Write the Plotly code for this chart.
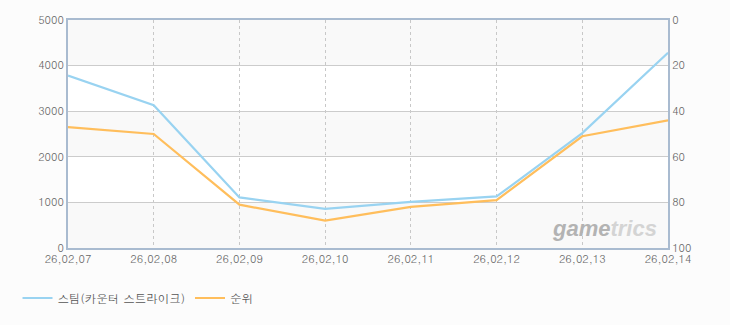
import plotly.graph_objects as go

dates = ["26,02,07", "26,02,08", "26,02,09", "26,02,10", "26,02,11", "26,02,12", "26,02,13", "26,02,14"]
players = [3780, 3130, 1110, 860, 1010, 1130, 2520, 4280]
ranks = [47, 50, 81, 88, 82, 79, 51, 44]

player_name = "스팀(카운터 스트라이크)"
rank_name = "순위"

left_ticks = [0, 1000, 2000, 3000, 4000, 5000]
right_ticks = [0, 20, 40, 60, 80, 100]

BLUE = "#99d3f1"
ORANGE = "#ffbe5c"
FONT = "Dotum, 'Noto Sans CJK KR', 'DejaVu Sans', sans-serif"

fig = go.Figure()
fig.add_trace(go.Scatter(x=dates, y=players, name=player_name, mode="lines",
                         line=dict(color=BLUE, width=2.2), yaxis="y"))
fig.add_trace(go.Scatter(x=dates, y=ranks, name=rank_name, mode="lines",
                         line=dict(color=ORANGE, width=2.2), yaxis="y2"))

# alternating bands
shapes = []
for i in range(len(left_ticks) - 1):
    if i % 2 == 0:
        shapes.append(dict(type="rect", xref="paper", yref="y", x0=0, x1=1,
                           y0=left_ticks[i], y1=left_ticks[i + 1],
                           fillcolor="#f9f9f9", line=dict(width=0), layer="below"))

fig.update_layout(
    width=730, height=325,
    margin=dict(l=68, r=62, t=16, b=77),
    paper_bgcolor="#fcfcfc",
    plot_bgcolor="#ffffff",
    shapes=shapes,
    font=dict(family=FONT, size=11, color="#666666"),
    showlegend=True,
    legend=dict(orientation="h", xref="container", yref="container",
                x=0.024, y=0.083, xanchor="left", yanchor="middle",
                font=dict(size=11.5, color="#555555"), itemwidth=30,
                bgcolor="rgba(0,0,0,0)", tracegroupgap=0),
    xaxis=dict(type="category", range=[0, len(dates) - 1],
               showgrid=True, gridcolor="#c8c8c8", griddash="3px,3px", gridwidth=1,
               showline=True, linecolor="#a9bbd0", linewidth=2, mirror=True,
               ticks="", tickfont=dict(size=11, color="#666666"), ticklabelstandoff=0,
               zeroline=False, fixedrange=True),
    yaxis=dict(range=[0, 5000], tickvals=left_ticks, showgrid=True,
               gridcolor="#cccccc", gridwidth=1, zeroline=False,
               showline=True, linecolor="#a9bbd0", linewidth=2,
               ticks="", tickfont=dict(size=11, color="#666666"), ticklabelstandoff=0),
    yaxis2=dict(range=[100, 0], tickvals=right_ticks, overlaying="y", side="right",
                showgrid=False, zeroline=False, showline=True, linecolor="#a9bbd0", linewidth=2,
                ticks="", tickfont=dict(size=11, color="#666666"), ticklabelstandoff=0),
    annotations=[dict(
        xref="paper", yref="paper", x=0.985, y=0.02, xanchor="right", yanchor="bottom",
        text="<b><i><span style='color:#b3b3b3'>game</span><span style='color:#d4d4d4'>trics</span></i></b>",
        showarrow=False, font=dict(family="'Liberation Sans', Arial, sans-serif", size=22))],
)

fig.write_html("out.html")
